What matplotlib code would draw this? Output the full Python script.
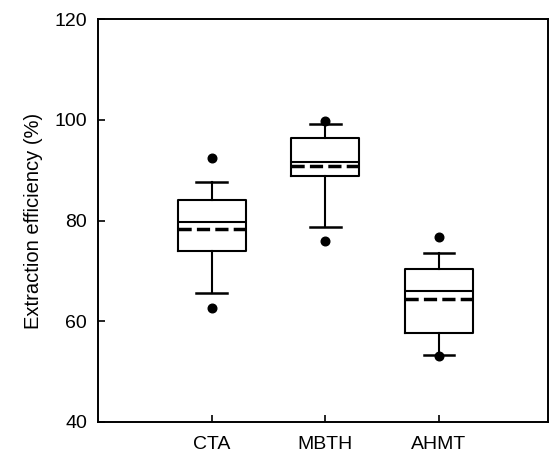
import matplotlib
matplotlib.use('Agg')
import matplotlib.pyplot as plt

# --- data ---
categories = ['CTA', 'MBTH', 'AHMT']
q1 = [74.0, 88.8, 57.7]
q3 = [84.0, 96.3, 70.3]
medians = [79.7, 91.6, 66.0]
means = [78.4, 90.8, 64.4]
whislo = [65.7, 78.8, 53.4]
whishi = [87.7, 99.1, 73.5]
fliers = [[62.6, 92.5], [76.0, 99.8], [53.1, 76.7]]

yticks = [40, 60, 80, 100, 120]

plt.rcParams['font.family'] = ['Liberation Sans', 'DejaVu Sans']

stats = []
for i, name in enumerate(categories):
    stats.append(dict(label=name, q1=q1[i], q3=q3[i], med=medians[i], mean=means[i],
                      whislo=whislo[i], whishi=whishi[i], fliers=fliers[i]))

fig = plt.figure(figsize=(5.51, 4.54), dpi=100)
ax = fig.add_axes([0.178, 0.0705, 0.8166, 0.8875])

ax.bxp(stats, positions=[1, 2, 3], widths=0.6, capwidths=0.27,
       showmeans=True, meanline=True, patch_artist=False,
       boxprops=dict(color='black', linewidth=1.5),
       medianprops=dict(color='black', linewidth=1.5),
       whiskerprops=dict(color='black', linewidth=1.5),
       capprops=dict(color='black', linewidth=1.8),
       meanprops=dict(color='black', linewidth=2.5, linestyle=(0, (3.8, 1.5))),
       flierprops=dict(marker='o', markerfacecolor='black', markeredgecolor='black',
                       markersize=6.2, linestyle='none'))

ax.set_xlim(0, 3.96)
ax.set_ylim(40, 120)
ax.set_yticks(yticks)
ax.set_xticks([1, 2, 3])
ax.set_xticklabels(categories)

for s in ax.spines.values():
    s.set_linewidth(1.4)

ax.tick_params(axis='both', direction='in', length=5, width=1.2, labelsize=14)
ax.tick_params(axis='y', pad=8)
ax.tick_params(axis='x', pad=10)
ax.set_ylabel('Extraction efficiency (%)', fontsize=14.5, labelpad=8)

fig.savefig('out.png', dpi=100)
